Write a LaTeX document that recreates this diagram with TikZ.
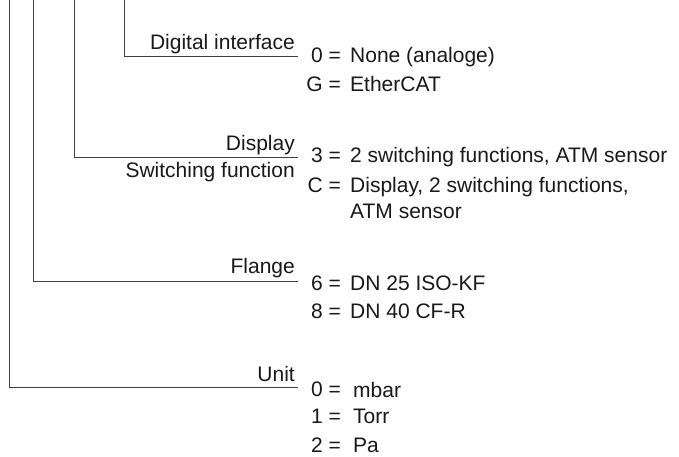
\documentclass[tikz,border=0pt]{standalone}
\usepackage{fontspec}
\setmainfont{Liberation Sans}
\begin{document}
\begin{tikzpicture}[x=1pt,y=-1pt,
  lead/.style={draw=black!75,line width=1pt},
  field/.style={anchor=base east,inner sep=0pt,text=black!90,font=\fontsize{21}{25}\selectfont},
  code/.style={anchor=base east,inner sep=0pt,text=black!90,font=\fontsize{21}{25}\selectfont},
  desc/.style={anchor=base west,inner sep=0pt,text=black!90,font=\fontsize{21}{25}\selectfont}]
\useasboundingbox[fill=white] (0,0) rectangle (679,457);

% leader lines from the order code down to each field
\coordinate (t1) at (124,0);  \coordinate (e1) at (298,56.5);
\coordinate (t2) at (74,0);   \coordinate (e2) at (298,158);
\coordinate (t3) at (33,0);   \coordinate (e3) at (298,281);
\coordinate (t4) at (9,0);    \coordinate (e4) at (298,387);
\draw[lead] (t1) |- (e1);
\draw[lead] (t2) |- (e2);
\draw[lead] (t3) |- (e3);
\draw[lead] (t4) |- (e4);

% field names
\node[field] (f1) at (295,50) {Digital interface};
\node[field] (f2a) at (295,151) {Display};
\node[field] (f2b) at (295,177) {Switching function};
\node[field] (f3) at (295,273) {Flange};
\node[field] (f4) at (295,381) {Unit};

% digital interface
\node[code] (c10) at (341,63) {0 =};
\node[desc] (d10) at (350,63) {None (analoge)};
\node[code] (c11) at (341,92) {G =};
\node[desc] (d11) at (350,92) {EtherCAT};

% display / switching function
\node[code] (c20) at (341,163) {3 =};
\node[desc] (d20) at (350,163) {2 switching functions, ATM sensor};
\node[code] (c21) at (341,193) {C =};
\node[desc] (d21) at (350,193) {Display, 2 switching functions,};
\node[desc] (d21b) at (350,218) {ATM sensor};

% flange
\node[code] (c30) at (341,290) {6 =};
\node[desc] (d30) at (350,290) {DN 25 ISO-KF};
\node[code] (c31) at (341,318) {8 =};
\node[desc] (d31) at (350,318) {DN 40 CF-R};

% unit
\node[code] (c40) at (341,396) {0 =};
\node[desc] (d40) at (353,397) {mbar};
\node[code] (c41) at (341,423) {1 =};
\node[desc] (d41) at (353,423) {Torr};
\node[code] (c42) at (341,452) {2 =};
\node[desc] (d42) at (353,452) {Pa};
\end{tikzpicture}
\end{document}
